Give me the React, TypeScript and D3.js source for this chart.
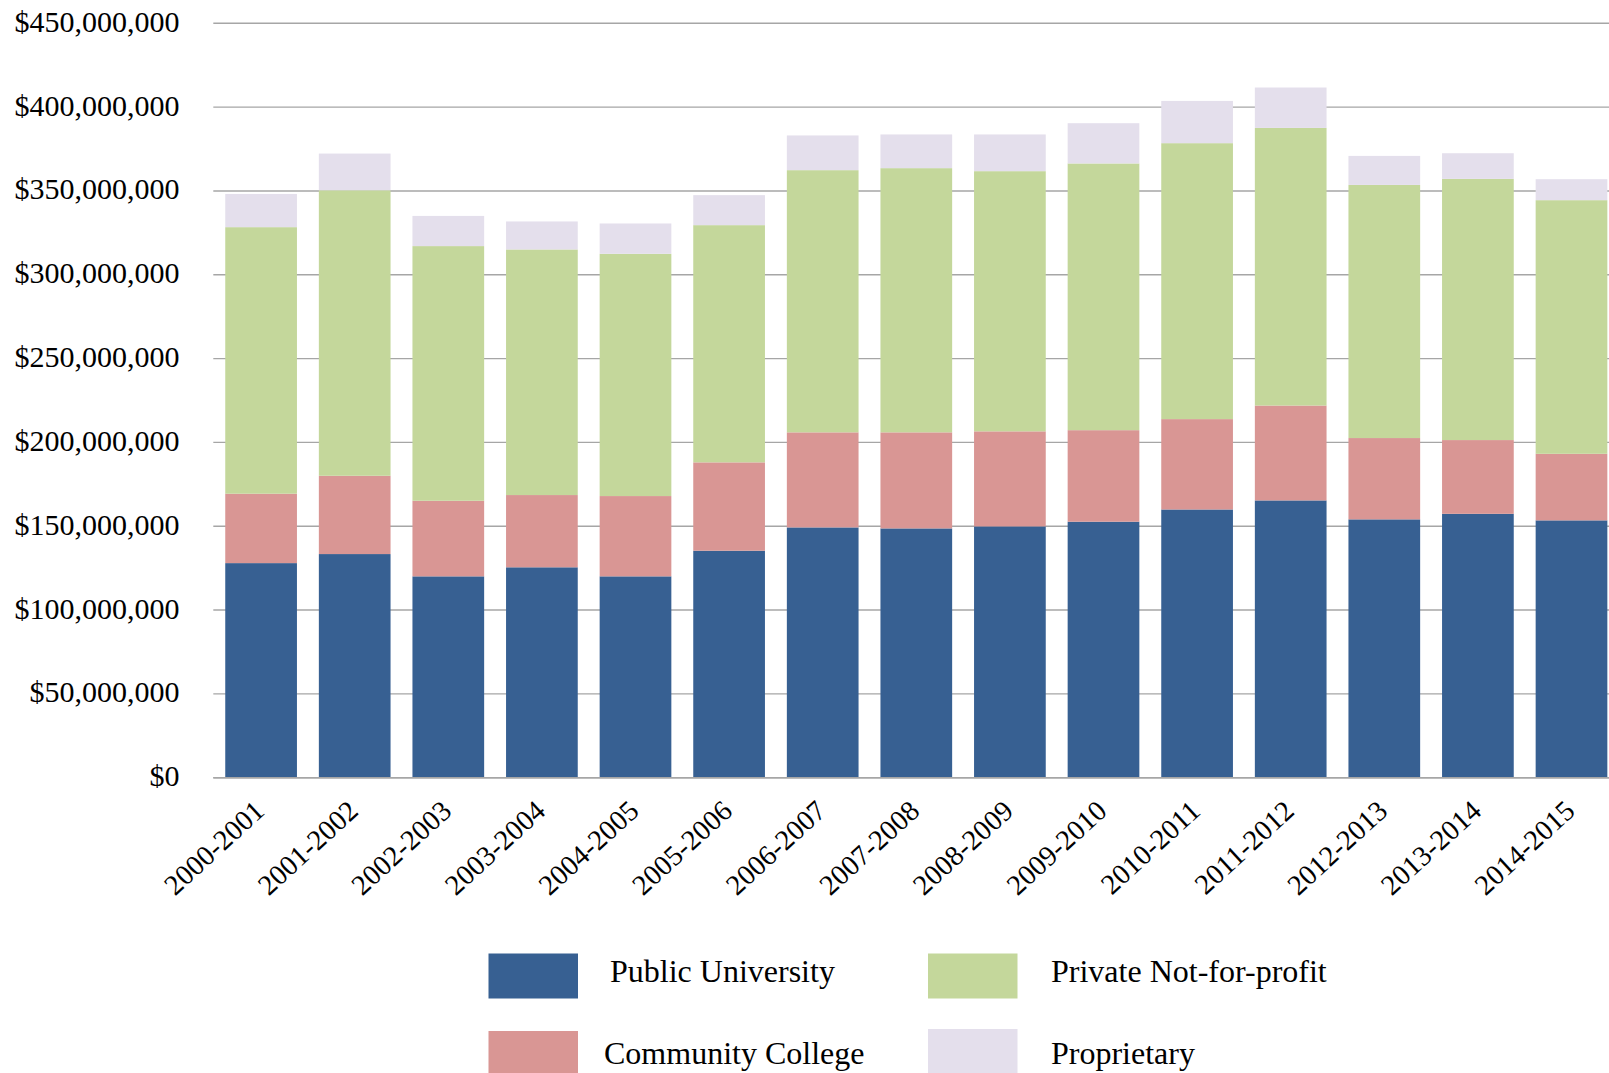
import React from "react";
import * as d3 from "d3";

// Academic years on the x axis
const years = [
  "2000-2001", "2001-2002", "2002-2003", "2003-2004", "2004-2005",
  "2005-2006", "2006-2007", "2007-2008", "2008-2009", "2009-2010",
  "2010-2011", "2011-2012", "2012-2013", "2013-2014", "2014-2015",
];

// Dollar amounts per sector (stacked bottom to top)
const publicUniversity = [
  128.0e6, 133.4e6, 120.1e6, 125.5e6, 120.1e6, 135.4e6, 149.3e6, 148.7e6,
  149.9e6, 152.7e6, 160.0e6, 165.4e6, 154.1e6, 157.4e6, 153.5e6,
];
const communityCollege = [
  41.4e6, 46.7e6, 45.1e6, 43.1e6, 47.9e6, 52.7e6, 56.7e6, 57.3e6,
  56.7e6, 54.6e6, 53.9e6, 56.6e6, 48.5e6, 44.0e6, 39.7e6,
];
const privateNotForProfit = [
  159.0e6, 170.3e6, 151.9e6, 146.5e6, 144.5e6, 141.5e6, 156.4e6, 157.6e6,
  155.2e6, 159.1e6, 164.6e6, 165.6e6, 151.0e6, 155.8e6, 151.3e6,
];
const proprietary = [
  19.8e6, 21.9e6, 18.0e6, 16.7e6, 18.1e6, 17.9e6, 20.7e6, 20.1e6,
  21.9e6, 24.0e6, 25.2e6, 24.1e6, 17.3e6, 15.3e6, 12.5e6,
];

const yTicks = [0, 50e6, 100e6, 150e6, 200e6, 250e6, 300e6, 350e6, 400e6, 450e6];

const seriesKeys = ["public", "community", "private", "proprietary"];
const seriesNames: Record<string, string> = {
  public: "Public University",
  community: "Community College",
  private: "Private Not-for-profit",
  proprietary: "Proprietary",
};
const seriesColors: Record<string, string> = {
  public: "#376092",
  community: "#D99694",
  private: "#C4D79B",
  proprietary: "#E4DFEC",
};

const W = 1609;
const H = 1073;
const FONT = "'Liberation Serif', 'Times New Roman', serif";

export default function App() {
  const rows = years.map((y, i) => ({
    year: y,
    public: publicUniversity[i],
    community: communityCollege[i],
    private: privateNotForProfit[i],
    proprietary: proprietary[i],
  }));

  const stacked = d3.stack<any>().keys(seriesKeys)(rows);

  const gridLeft = 213.3;
  const x = d3
    .scaleBand<string>()
    .domain(years)
    .range([214.3, 214.3 + 93.6 * years.length])
    .paddingInner(0.234)
    .paddingOuter(0.117);

  const y = d3.scaleLinear().domain([0, 450e6]).range([777.7, 23.3]);

  const fmt = (v: number) => "$" + d3.format(",")(v);

  const legend = [
    { key: "public", sx: 488.5, sy: 953.5, tx: 610, ty: 982 },
    { key: "private", sx: 928, sy: 953.5, tx: 1051, ty: 982 },
    { key: "community", sx: 488.5, sy: 1031, tx: 604, ty: 1064 },
    { key: "proprietary", sx: 928, sy: 1029, tx: 1051, ty: 1064 },
  ];

  return (
    <div style={{ position: "absolute", left: 0, top: 0, width: W, height: H, overflow: "hidden", background: "#fff" }}>
      <svg width={W} height={H} style={{ display: "block" }} fontFamily={FONT}>
        {/* horizontal gridlines */}
        <g>
          {yTicks.map((t) => (
            <line
              key={t}
              x1={gridLeft}
              x2={W}
              y1={y(t)}
              y2={y(t)}
              stroke="#a6a6a6"
              strokeWidth={1.4}
            />
          ))}
        </g>

        {/* stacked bars */}
        {stacked.map((layer) => (
          <g key={layer.key} fill={seriesColors[layer.key]}>
            {layer.map((d, i) => (
              <rect
                key={i}
                x={x(years[i])}
                width={x.bandwidth()}
                y={y(d[1])}
                height={y(d[0]) - y(d[1])}
              />
            ))}
          </g>
        ))}

        {/* baseline */}
        <line x1={gridLeft} x2={W} y1={y(0)} y2={y(0)} stroke="#a6a6a6" strokeWidth={1.4} />

        {/* y axis labels */}
        <g fontSize={30} fill="#000" textAnchor="end">
          {yTicks.map((t) => (
            <text key={t} x={179.5} y={y(t) + 8.5}>
              {fmt(t)}
            </text>
          ))}
        </g>

        {/* x axis labels */}
        <g fontSize={28.5} fill="#000" textAnchor="end">
          {years.map((yr) => {
            const cx = (x(yr) as number) + x.bandwidth() / 2 + 5;
            const cy = 813;
            return (
              <text key={yr} transform={`translate(${cx},${cy}) rotate(-42.5)`}>
                {yr}
              </text>
            );
          })}
        </g>

        {/* legend */}
        <g fontSize={32} fill="#000">
          {legend.map((l) => (
            <g key={l.key}>
              <rect x={l.sx} y={l.sy} width={89.5} height={45} fill={seriesColors[l.key]} />
              <text x={l.tx} y={l.ty}>
                {seriesNames[l.key]}
              </text>
            </g>
          ))}
        </g>
      </svg>
    </div>
  );
}
